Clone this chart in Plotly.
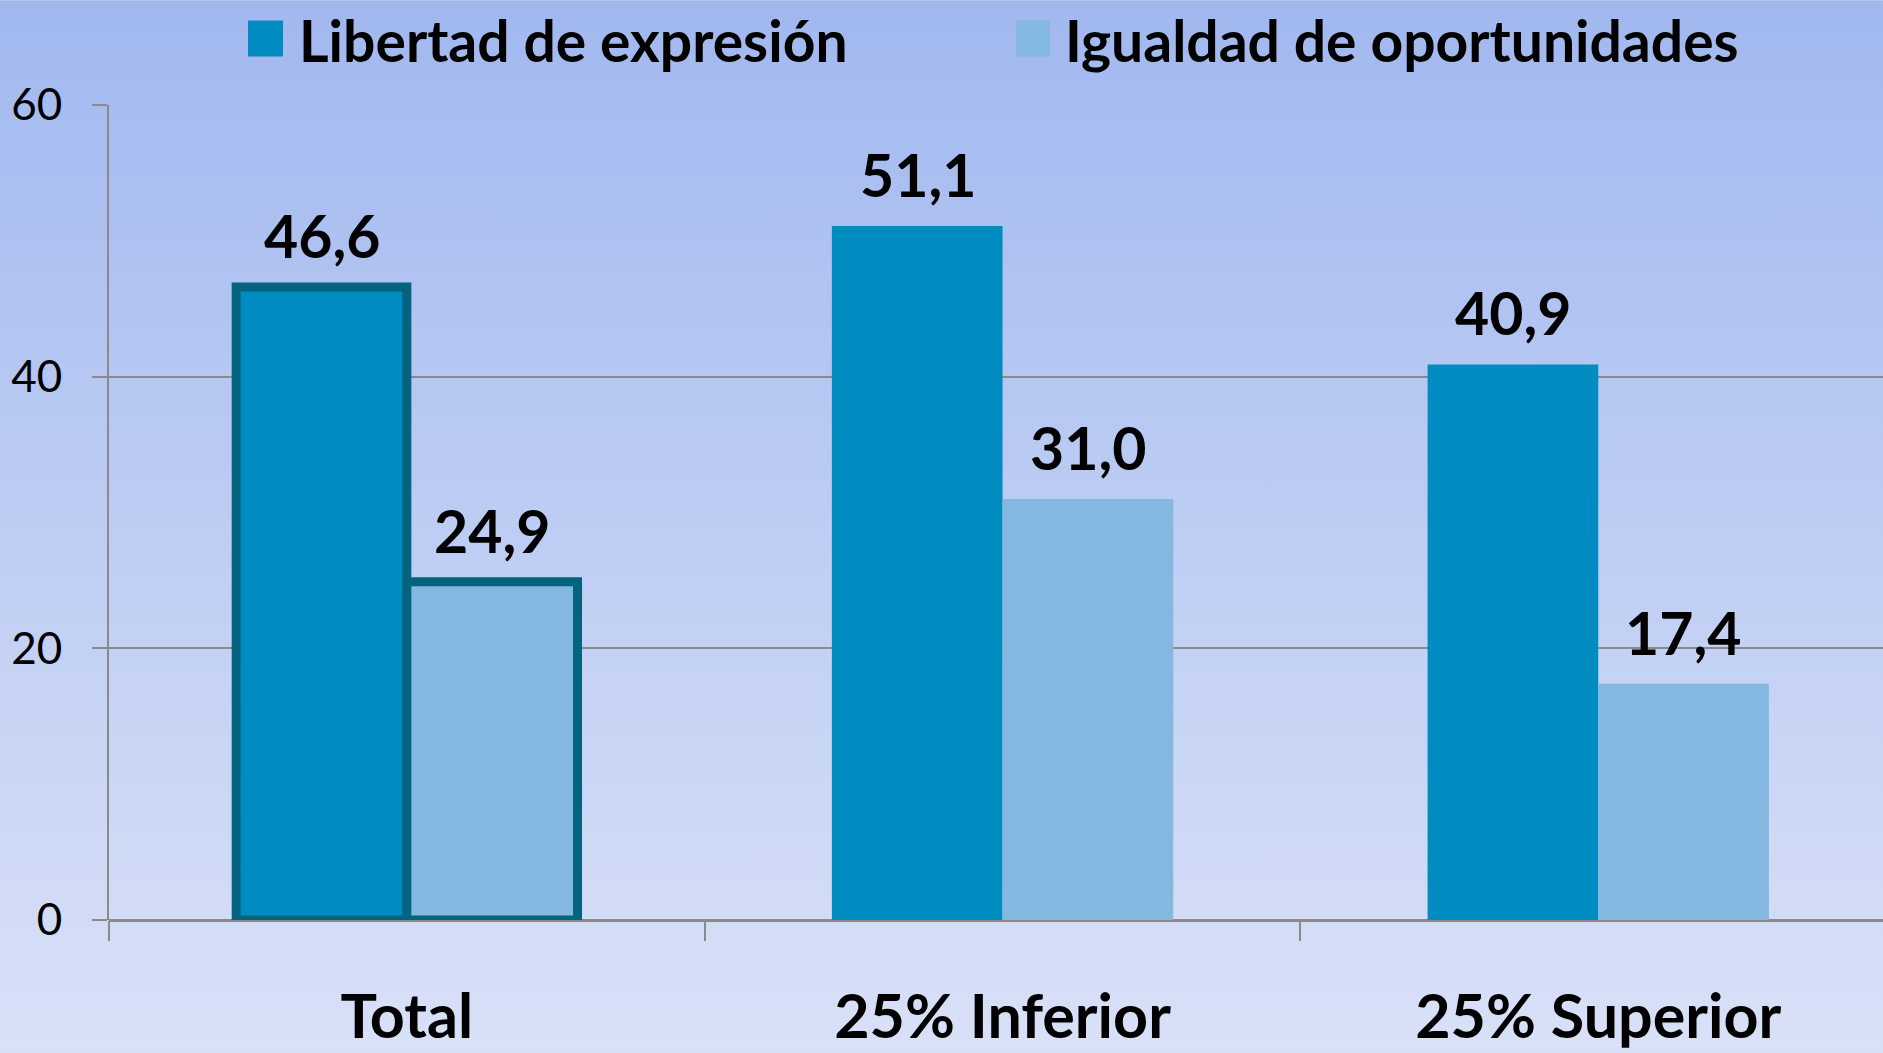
import base64
import plotly.graph_objects as go

# Chart data
categories = ["Total", "25% Inferior", "25% Superior"]
libertad = [46.6, 51.1, 40.9]
igualdad = [24.9, 31.0, 17.4]
series_names = ["Libertad de expresión", "Igualdad de oportunidades"]
y_ticks = [0, 20, 40, 60]

BLUE = "#008BC1"
LIGHT = "#84B8E0"
EDGE = "#04637F"
GRID = "#8A8A8A"
FONT = "Lato"

# Only the "Total" group gets a heavy outline
edge_widths = [9, 0, 0]

fig = go.Figure()
fig.add_trace(go.Bar(
    x=categories, y=libertad, name=series_names[0],
    marker=dict(color=BLUE, line=dict(color=EDGE, width=edge_widths)),
    showlegend=False,
))
fig.add_trace(go.Bar(
    x=categories, y=igualdad, name=series_names[1],
    marker=dict(color=LIGHT, line=dict(color=EDGE, width=edge_widths)),
    showlegend=False,
))

def fmt(v):
    return f"{v:.1f}".replace(".", ",")

# Value labels above each bar
annotations = []
for trace_idx, vals in enumerate([libertad, igualdad]):
    for i, v in enumerate(vals):
        annotations.append(dict(
            x=categories[i], y=v, xref="x", yref="y",
            text=f"<b>{fmt(v)}</b>", showarrow=False,
            yanchor="bottom", yshift=14,
            xshift=(-85 if trace_idx == 0 else 85),
            font=dict(family=FONT, size=59, color="black"),
        ))

# Legend drawn as swatches + labels across the top
W, H = 1883, 1053
legend_items = [
    (series_names[0], BLUE, 248, 283, 297),
    (series_names[1], LIGHT, 1016, 1050, 1063),
]
shapes = []
for name, color, x0, x1, tx in legend_items:
    shapes.append(dict(
        type="rect", xref="paper", yref="paper",
        x0=(x0 - 109) / (W - 109), x1=(x1 - 109) / (W - 109),
        y0=1 + (104.5 - 56) / 815.5, y1=1 + (104.5 - 20) / 815.5,
        fillcolor=color, line=dict(width=0), layer="above",
    ))
    annotations.append(dict(
        x=(tx - 109) / (W - 109), y=1 + (104.5 - 39) / 815.5,
        xref="paper", yref="paper", xanchor="left", yanchor="middle",
        text=f"<b>{name}</b>", showarrow=False,
        font=dict(family=FONT, size=57, color="black"),
    ))

# Vertical gradient background
svg = (
    '<svg xmlns="http://www.w3.org/2000/svg" width="100" height="100" preserveAspectRatio="none">'
    '<defs><linearGradient id="g" x1="0" y1="0" x2="0" y2="1">'
    '<stop offset="0" stop-color="#A1B8EF"/><stop offset="1" stop-color="#D9E1F7"/>'
    '</linearGradient></defs><rect width="100" height="100" fill="url(#g)"/></svg>'
)
bg_src = "data:image/svg+xml;base64," + base64.b64encode(svg.encode()).decode()

fig.update_layout(
    width=W, height=H,
    margin=dict(l=109, r=0, t=104.5, b=133, pad=0),
    paper_bgcolor="#BCCBF3",
    plot_bgcolor="rgba(0,0,0,0)",
    barmode="group", bargap=0.427, bargroupgap=0,
    font=dict(family=FONT, color="black"),
    separators=",.",
    annotations=annotations,
    shapes=shapes,
    images=[dict(
        source=bg_src, xref="paper", yref="paper",
        x=-109 / (W - 109), y=1 + 104.5 / 815.5,
        sizex=W / (W - 109), sizey=H / 815.5,
        xanchor="left", yanchor="top", sizing="stretch", layer="below",
    )],
    xaxis=dict(
        range=[-0.5, -0.5 + (W - 109) / 595.7],
        automargin=False,
        showgrid=False, showline=False, zeroline=False,
        ticks="outside", tickson="boundaries", ticklen=20,
        tickcolor=GRID, tickwidth=2,
        tickfont=dict(family=FONT, size=61, color="black", weight="bold"),
        ticklabelstandoff=56,
    ),
    yaxis=dict(
        range=[0, 60], tickvals=y_ticks,
        automargin=False,
        showgrid=True, gridcolor=GRID, gridwidth=2,
        showline=True, linecolor=GRID, linewidth=2,
        zeroline=True, zerolinecolor=GRID, zerolinewidth=3,
        ticks="outside", ticklen=15, tickcolor=GRID, tickwidth=2,
        tickfont=dict(family=FONT, size=44, color="black"),
        ticklabelstandoff=21,
    ),
)

fig.write_html("out.html")
